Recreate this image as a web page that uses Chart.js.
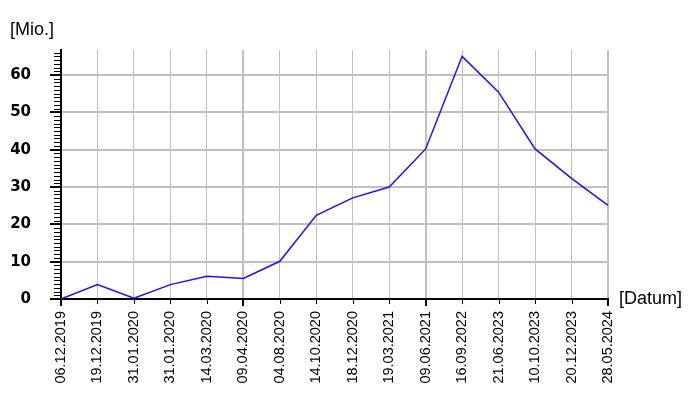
<!DOCTYPE html>
<html>
<head>
<meta charset="utf-8">
<script src="https://cdn.jsdelivr.net/npm/chart.js@4"></script>
<style>
  body { margin: 0; background: #fff; }
</style>
</head>
<body>
<canvas id="chartLine" width="700" height="400"></canvas>
<script>
const dates = [
  "06.12.2019", "19.12.2019", "31.01.2020", "31.01.2020", "14.03.2020",
  "09.04.2020", "04.08.2020", "14.10.2020", "18.12.2020", "19.03.2021",
  "09.06.2021", "16.09.2022", "21.06.2023", "10.10.2023", "20.12.2023",
  "28.05.2024",
];
const values = [0, 3.85, 0.2, 3.85, 6.1, 5.5, 10.1, 22.4, 27.1, 30, 40.2, 65, 55.4, 40.2, 32.3, 25.1];
const yMax = 66.7;
const yStep = 10;
const yTitle = "[Mio.]";
const xTitle = "[Datum]";

const gridGray = "#c0c0c0";

// minor ticks + axis titles
const extras = {
  id: "extras",
  afterDraw(chart) {
    const ctx = chart.ctx;
    const x = chart.scales.x;
    const y = chart.scales.y;
    const area = chart.chartArea;
    ctx.save();
    ctx.strokeStyle = "#000";
    // y minor ticks
    ctx.lineWidth = 1;
    for (let v = 1; v < yMax; v++) {
      if (v % yStep === 0) continue;
      const py = Math.round(y.getPixelForValue(v)) + 0.5;
      ctx.beginPath();
      ctx.moveTo(area.left - 7, py);
      ctx.lineTo(area.left, py);
      ctx.stroke();
    }
    // x ticks, longer and thicker every 5th
    dates.forEach((d, i) => {
      const major = i % 5 === 0;
      const px = Math.round(x.getPixelForValue(i));
      ctx.lineWidth = major ? 2 : 1;
      ctx.beginPath();
      ctx.moveTo(major ? px : px + 0.5, area.bottom);
      ctx.lineTo(major ? px : px + 0.5, area.bottom + (major ? 7 : 5));
      ctx.stroke();
    });
    ctx.fillStyle = "#000";
    ctx.font = "18px 'Liberation Sans', Arial, sans-serif";
    ctx.textBaseline = "alphabetic";
    ctx.textAlign = "left";
    ctx.fillText(yTitle, 10, 35);
    ctx.textBaseline = "middle";
    ctx.fillText(xTitle, 619, 299);
    ctx.restore();
  },
};

const config = {
  type: "line",
  data: {
    labels: dates,
    datasets: [
      {
        data: values,
        borderColor: "rgb(20, 20, 255)",
        borderWidth: 1.5,
        pointRadius: 0,
        tension: 0,
        fill: false,
      },
    ],
  },
  options: {
    responsive: false,
    animation: false,
    devicePixelRatio: 1,
    layout: { padding: { left: 0, right: 92, top: 50, bottom: 0 } },
    plugins: {
      legend: { display: false },
      tooltip: { enabled: false },
    },
    scales: {
      x: {
        type: "category",
        offset: false,
        afterFit(scale) { scale.height = 101; },
        grid: {
          color: gridGray,
          lineWidth: (c) => (c.index % 5 === 0 ? 2 : 1),
          drawTicks: false,
        },
        border: { color: "#000", width: 2 },
        ticks: {
          autoSkip: false,
          minRotation: 90,
          maxRotation: 90,
          padding: 12,
          color: "#000",
          font: { family: "'Liberation Sans', Arial, sans-serif", size: 14.5 },
        },
      },
      y: {
        min: 0,
        max: yMax,
        afterFit(scale) { scale.width = 61; },
        grid: {
          color: gridGray,
          lineWidth: 2,
          drawTicks: true,
          tickLength: 11,
          tickColor: "#000",
          tickWidth: 2,
        },
        border: { color: "#000", width: 2 },
        ticks: {
          stepSize: yStep,
          includeBounds: false,
          padding: 19,
          color: "#000",
          font: { family: "'DejaVu Sans', sans-serif", size: 15, weight: "bold" },
        },
      },
    },
  },
  plugins: [extras],
};

new Chart(document.getElementById("chartLine"), config);
</script>
</body>
</html>
